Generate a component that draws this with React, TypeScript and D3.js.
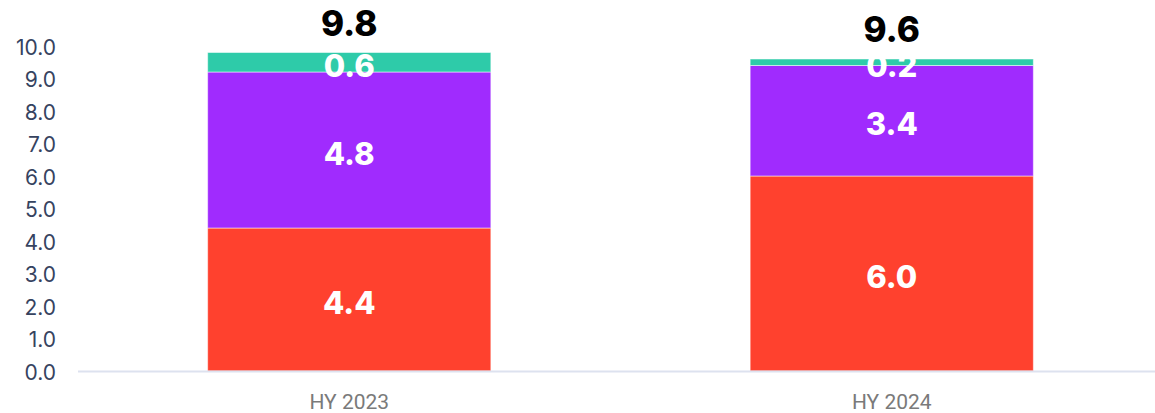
import React from "react";
import * as d3 from "d3";

const categories = ["HY 2023", "HY 2024"];
const seriesNames = ["a", "b", "c"];
const seriesA = [4.4, 6.0];
const seriesB = [4.8, 3.4];
const seriesC = [0.6, 0.2];
const totals = [9.8, 9.6];
const yTicks = [0, 1, 2, 3, 4, 5, 6, 7, 8, 9, 10];
const colors = ["#FF412E", "#A02BFE", "#2ECBA9"];

export default function App() {
  const W = 1155, H = 413;
  const x = d3.scaleBand<string>().domain(categories).range([78, 1163]).padding(0);
  const y = d3.scaleLinear().domain([0, 10]).range([371, 46]);
  const barW = x.bandwidth() * 0.522;
  const rows = categories.map((c, i) => ({ cat: c, a: seriesA[i], b: seriesB[i], c: seriesC[i] }));
  const stack = d3.stack<any>().keys(seriesNames)(rows);

  return (
    <svg width={W} height={H} style={{ position: "absolute", left: 0, top: 0 }}>
      <rect width={W} height={H} fill="#fff" />
      {yTicks.map((t) => (
        <text key={t} x={56} y={y(t) + 1} textAnchor="end" dominantBaseline="central"
          fontFamily="Inter, sans-serif" fontSize={21} fill="#36435f">{t.toFixed(1)}</text>
      ))}
      {stack.map((layer, li) =>
        layer.map((d, i) => {
          const cx = x(categories[i])! + x.bandwidth() / 2;
          return (
            <rect key={li + "-" + i} x={cx - barW / 2} y={y(d[1])} width={barW}
              height={y(d[0]) - y(d[1])} fill={colors[li]} stroke="#ffffff" strokeOpacity={0.5} strokeWidth={1} />
          );
        })
      )}
      <line x1={78} x2={1155} y1={y(0) + 0.5} y2={y(0) + 0.5} stroke="#dde2ef" strokeWidth={2} />
      {stack.map((layer, li) =>
        layer.map((d, i) => {
          const cx = x(categories[i])! + x.bandwidth() / 2;
          const v = d[1] - d[0];
          return (
            <text key={"l" + li + "-" + i} x={cx} y={(y(d[0]) + y(d[1])) / 2 + 3}
              textAnchor="middle" dominantBaseline="central" fontFamily="Inter, sans-serif"
              fontWeight={800} fontSize={31} fill="#fff">{v.toFixed(1)}</text>
          );
        })
      )}
      {totals.map((t, i) => {
        const cx = x(categories[i])! + x.bandwidth() / 2;
        return (
          <text key={"t" + i} x={cx} y={y(t) - 30} textAnchor="middle" dominantBaseline="central"
            fontFamily="Inter, sans-serif" fontWeight={800} fontSize={35} fill="#000">{t.toFixed(1)}</text>
        );
      })}
      {categories.map((c) => (
        <text key={c} x={x(c)! + x.bandwidth() / 2} y={401.5} textAnchor="middle" dominantBaseline="central"
          fontFamily="Roboto, sans-serif" fontSize={21} fill="#7a7a7a">{c}</text>
      ))}
    </svg>
  );
}
